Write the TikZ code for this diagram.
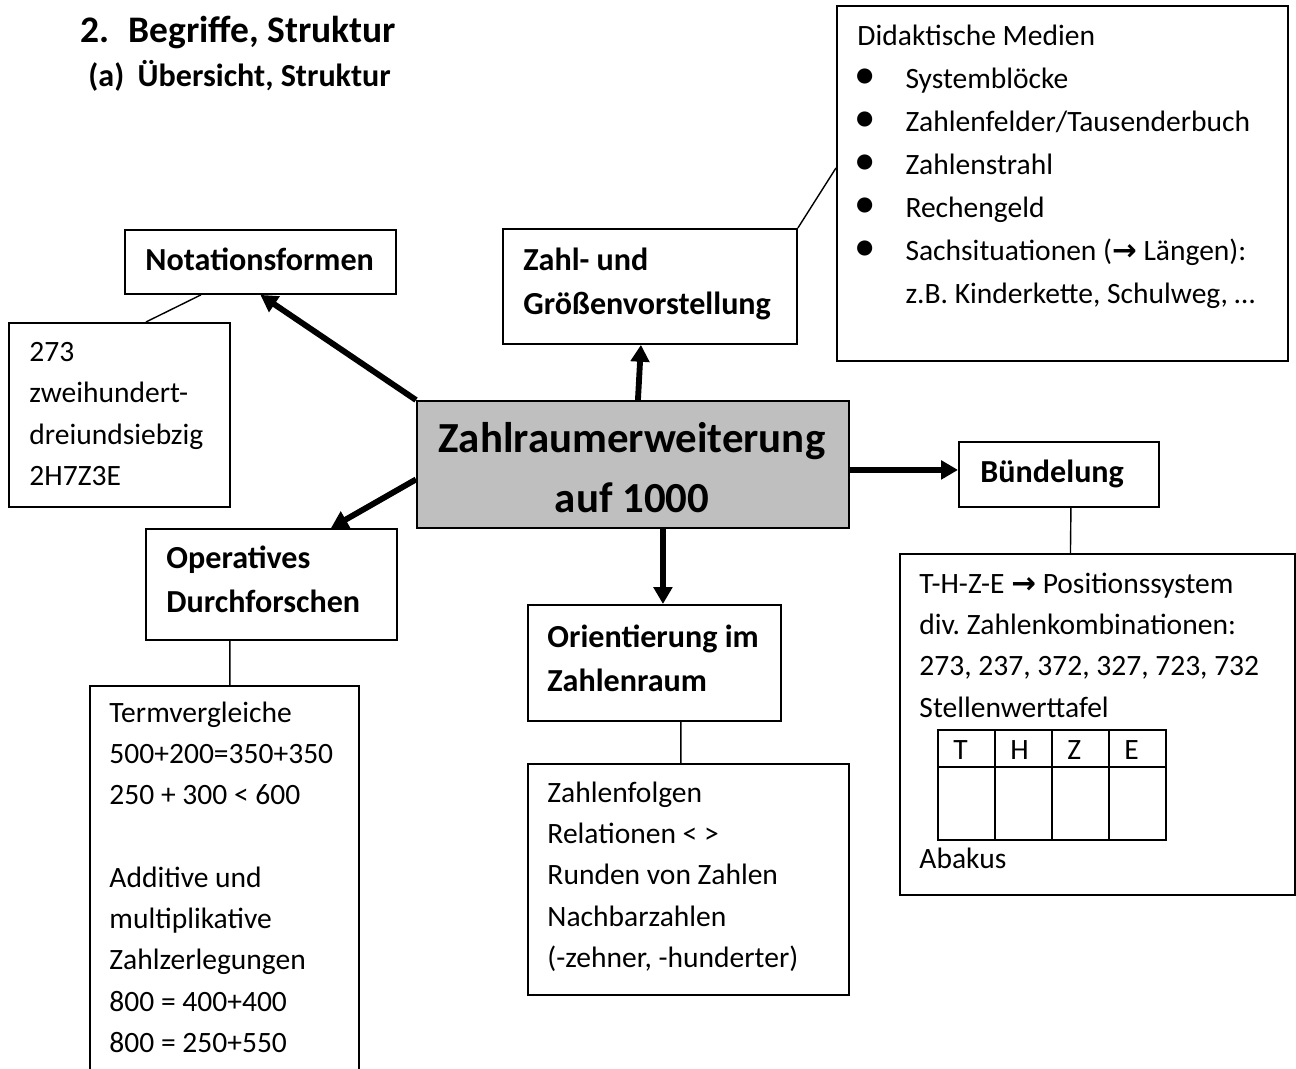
\documentclass[tikz,border=0pt]{standalone}
\usepackage{fontspec}
\setmainfont{Carlito}
\newfontfamily\pfeilfont{DejaVu Sans}
\usepackage{tikz}
\usetikzlibrary{arrows.meta,positioning}
\frenchspacing
\definecolor{zentrumgrau}{RGB}{191,191,191}
\newcommand{\puce}{\makebox[20.5pt][l]{\hspace{-1.2pt}\scalebox{1.45}{\textbullet}}}
\newcommand{\pfeil}{{\pfeilfont\bfseries →}}
\tikzset{
  kasten/.style={draw, line width=0.8pt, inner sep=0pt, anchor=north west},
  groesse/.style 2 args={minimum width=#1*0.015cm, minimum height=#2*0.015cm},
  texte/.style={inner sep=0pt, anchor=north west, align=left, text width=7cm,
    font=\fontsize{12.6}{17.6}\selectfont,
    execute at begin node={\spaceskip=0pt\xspaceskip=0pt}},
  titre/.style={inner sep=0pt, anchor=base west, font=\fontsize{13.7}{18.6}\bfseries},
  fleche/.style={line width=2.5pt, -{Triangle[length=7.2pt,width=7.8pt]}},
  trait/.style={line width=0.6pt},
}
\begin{document}
\begin{tikzpicture}[x=0.015cm, y=-0.015cm]
    \useasboundingbox (0,0) rectangle (1296,1068);
    % Titres
    \node[titre, font=\fontsize{16}{20}\bfseries] (titel) at (80,43) {\makebox[20.5pt][l]{2.}Begriffe, Struktur};
    \node[titre] (untertitel) at (88,87) {\makebox[21pt][l]{(a)}Übersicht, Struktur};
    % Boites
    \node[kasten, groesse={451}{355}] (medien) at (836,5) {};
    \node[kasten, groesse={294}{115}] (zahl) at (502,228) {};
    \node[kasten, groesse={271}{64}] (nota) at (124,229) {};
    \node[kasten, groesse={221}{184}] (notbsp) at (8,322) {};
    \node[kasten, groesse={432}{127}, fill=zentrumgrau] (zentrum) at (416,400) {};
    \node[kasten, groesse={200}{65}] (buend) at (958,441) {};
    \node[kasten, groesse={395}{341}] (buendbsp) at (899,553) {};
    \node[kasten, groesse={251}{111}] (oper) at (145,528) {};
    \node[kasten, groesse={269}{420}] (operbsp) at (89,685) {};
    \node[kasten, groesse={253}{116}] (orient) at (527,604) {};
    \node[kasten, groesse={321}{231}] (orientbsp) at (527,763) {};
    % Textes
    \node[texte, anchor=north, align=center, font=\fontsize{18.3}{25.6}\bfseries] (zentrumtext) at (632,410) {\strut Zahlraumerweiterung\\auf\hspace{0.226em}1000};
    \node[titre] (notatext) at (145,270) {Notationsformen};
    \node[titre] (buendtext) at (980,482) {Bündelung};
    \node[texte, font=\fontsize{13.7}{18.6}\bfseries] (zahltext) at (523,239.5) {\strut Zahl- und\\Größenvorstellung};
    \node[texte, font=\fontsize{13.7}{18.6}\bfseries] (opertext) at (166,537.5) {\strut Operatives\\Durchforschen};
    \node[texte, font=\fontsize{13.7}{18.6}\bfseries] (orienttext) at (547,616.5) {\strut Orientierung im\\Zahlenraum};
    \node[texte, font=\fontsize{12.6}{18.35}\selectfont] (medientext) at (857,15) {\strut Didaktische Medien\\
      \puce Systemblöcke\\ \puce Zahlenfelder/Tausenderbuch\\ \puce Zahlenstrahl\\ \puce Rechengeld\\
      \puce Sachsituationen (\pfeil{} Längen):\\ \hspace*{20.5pt}z.B. Kinderkette, Schulweg, …};
    \node[texte, font=\fontsize{12.6}{17.7}\selectfont] (notbsptext) at (29,332) {\strut 273\\zweihundert-\\dreiundsiebzig\\2H7Z3E};
    \node[texte] (operbsptext) at (109,693) {\strut Termvergleiche\\500+200=350+350\\250 + 300 < 600\\[17.6pt]
      Additive und\\multiplikative\\Zahlzerlegungen\\800 = 400+400\\800 = 250+550};
    \node[texte] (orientbsptext) at (547,773) {\strut Zahlenfolgen\\Relationen < >\\Runden von Zahlen\\Nachbarzahlen\\(-zehner, -hunderter)};
    \node[texte] (buendbsptext) at (919,564) {\strut T-H-Z-E \pfeil{} Positionssystem\\div. Zahlenkombinationen:\\273, 237, 372, 327, 723, 732\\Stellenwerttafel};
    \node[texte, anchor=base west] (abakus) at (919,868) {Abakus};
    % Stellenwerttafel
    \draw[trait] (938,730) rectangle (1166,840);
    \draw[trait] (938,767) -- (1166,767);
    \foreach \x in {995,1052,1109} \draw[trait] (\x,730) -- (\x,840);
    \foreach \l [count=\i from 0] in {T,H,Z,E} \node[texte, anchor=base west] (spalte\l) at (953+57*\i,759) {\l};
    % Fleches
    \draw[fleche] (zentrum.north west) -- (nota.south);
    \draw[fleche] ([shift={(5,0)}]zentrum.north) -- ([shift={(-9,0)}]zahl.south);
    \draw[fleche] ([shift={(0,5.5)}]zentrum.east) -- ([shift={(0,-4.5)}]buend.west);
    \draw[fleche] ([shift={(30,0)}]zentrum.south) -- ([shift={(8.5,0)}]orient.north);
    \draw[fleche] ([shift={(0,15)}]zentrum.west) -- ([shift={(59.5,0)}]oper.north);
    % Traits
    \draw[trait] ([shift={(-59.5,0)}]nota.south) -- ([shift={(26.5,0)}]notbsp.north);
    \draw[trait] (zahl.north east) -- ([shift={(0,-15.5)}]medien.west);
    \draw[trait] ([shift={(12,0)}]buend.south) -- ([shift={(-27,0)}]buendbsp.north);
    \draw[trait] ([shift={(5.5,0)}]operbsp.north) -- ([shift={(-41.5,0)}]oper.south);
    \draw[trait] ([shift={(26.5,0)}]orient.south) -- ([shift={(-7.5,0)}]orientbsp.north);
\end{tikzpicture}
\end{document}
